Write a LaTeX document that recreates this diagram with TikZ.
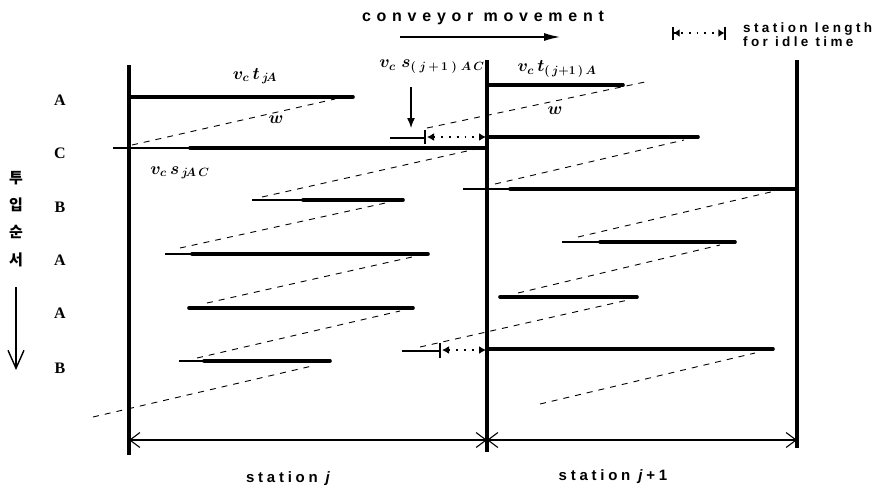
\documentclass[tikz,border=0pt]{standalone}
\usepackage{fontspec}
\setmainfont{Liberation Serif}
\setsansfont{Liberation Sans}
\newfontfamily\krfont{Noto Sans CJK KR}
\newfontfamily\widesans[LetterSpace=36]{Liberation Sans}
\newfontfamily\stationsans[LetterSpace=25]{Liberation Sans}
\usetikzlibrary{positioning, arrows.meta}

\begin{document}
\begin{tikzpicture}[x=1pt, y=-1pt,
    station/.style={line width=3.2pt},
    bar/.style={line width=3.6pt, line cap=round},
    lead/.style={line width=1.1pt},
    walk/.style={line width=0.9pt, dash pattern=on 6pt off 6pt},
    idle/.style={line width=2pt, dash pattern=on 1.8pt off 6pt,
                 {Latex[length=7pt,width=8pt]}-{Latex[length=7pt,width=8pt]}},
    idlekey/.style={line width=2pt, dash pattern=on 1.8pt off 6pt,
                 {Bar[width=13pt,line width=1.6pt]Latex[length=6pt,width=8pt]}-{Latex[length=6pt,width=8pt]Bar[width=13pt,line width=1.6pt]}},
    tickmark/.style={line width=1.4pt},
    dim/.style={line width=1.1pt,
                {Straight Barb[length=10pt,width=15pt]}-{Straight Barb[length=10pt,width=15pt]}},
    seq/.style={font=\bfseries\fontsize{16}{18}\selectfont},
    kr/.style={font=\krfont\bfseries\fontsize{15}{17}\selectfont},
    lbl/.style={font=\boldmath\fontsize{18}{20}\selectfont, inner sep=0pt},
    txt/.style={font=\stationsans\bfseries\fontsize{15}{16}\selectfont, inner sep=0pt},
  ]
  \useasboundingbox (0,0) rectangle (878,491);

  % Station borders
  \coordinate (sjtop) at (129,65);   \coordinate (sjbot) at (129,455);
  \coordinate (smtop) at (487,60);   \coordinate (smbot) at (487,452);
  \coordinate (sktop) at (797,60);   \coordinate (skbot) at (797,448);
  \draw[station] (sjtop) -- (sjbot);
  \draw[station] (smtop) -- (smbot);
  \draw[station] (sktop) -- (skbot);

  % Station length dimensions
  \coordinate (dimj)  at (129,440);
  \coordinate (dimm)  at (487,440);
  \coordinate (dimk)  at (797,440);
  \draw[dim] (dimj) -- (dimm);
  \draw[dim] (dimm) -- (dimk);
  \node[txt] (stj)  at (290,479) {station \textit{j}};
  \node[txt] (stj1) at (613,477) {station \textit{j}+1};

  % Conveyor movement
  \node[font=\widesans\bfseries\fontsize{16}{18}\selectfont, inner sep=0pt] (conv) at (483,18) {conveyor movement};
  \coordinate (convs) at (400,37);
  \coordinate (conve) at (560,37);
  \draw[line width=1.4pt, -{Latex[length=16pt,width=8pt]}] (convs) -- (conve);

  % Legend for idle time
  \coordinate (keys) at (672,33);
  \coordinate (keye) at (726,33);
  \draw[idlekey] (keys) -- (keye);
  \node[font=\stationsans\bfseries\fontsize{13.5}{14}\selectfont, align=left, anchor=west, inner sep=0pt]
       (keytxt) at (743,35) {station length\\for idle time};

  % Launch sequence
  \node[kr] (k1) at (16,178) {투};
  \node[kr] (k2) at (16,205) {입};
  \node[kr] (k3) at (16,232) {순};
  \node[kr] (k4) at (16,260) {서};
  \coordinate (seqs) at (16,287);
  \coordinate (seqe) at (16,370);
  \draw[line width=1.4pt, -{Straight Barb[length=18pt,width=16pt]}] (seqs) -- (seqe);

  \node[seq] (r1) at (60,100) {A};
  \node[seq] (r2) at (60,153) {C};
  \node[seq] (r3) at (60,207) {B};
  \node[seq] (r4) at (60,260) {A};
  \node[seq] (r5) at (60,313) {A};
  \node[seq] (r6) at (60,368) {B};

  % Work content, station j
  \draw[bar] (129,97) -- (353,97);
  \draw[lead] (113,148) -- (190,148);
  \draw[bar] (190,148) -- (487,148);
  \draw[lead] (252,200) -- (303,200);
  \draw[bar] (303,200) -- (403,200);
  \draw[lead] (165,254) -- (192,254);
  \draw[bar] (192,254) -- (428,254);
  \draw[bar] (189,308) -- (413,308);
  \draw[lead] (179,361) -- (204,361);
  \draw[bar] (204,361) -- (330,361);

  % Work content, station j+1
  \draw[bar] (487,85) -- (623,85);
  \draw[bar] (487,137) -- (698,137);
  \draw[lead] (463,189) -- (510,189);
  \draw[bar] (510,189) -- (797,189);
  \draw[lead] (562,242) -- (600,242);
  \draw[bar] (600,242) -- (735,242);
  \draw[bar] (500,297) -- (637,297);
  \draw[bar] (487,349) -- (773,349);

  % Idle time
  \draw[lead] (390,138) -- (425,138);
  \draw[tickmark] (425,130) -- (425,144);
  \draw[idle] (427,137) -- (486,137);
  \draw[lead] (402,351) -- (440,351);
  \draw[tickmark] (440,343) -- (440,358);
  \draw[idle] (442,350) -- (486,350);

  % Operator walk
  \draw[walk] (132,145) -- (335,99);
  \draw[walk] (262,197) -- (476,149);
  \draw[walk] (180,248) -- (390,202);
  \draw[walk] (207,303) -- (412,257);
  \draw[walk] (197,358) -- (400,311);
  \draw[walk] (93,417) -- (312,366);
  \draw[walk] (427,128) -- (645,82);
  \draw[walk] (495,184) -- (684,140);
  \draw[walk] (578,237) -- (775,191);
  \draw[walk] (518,293) -- (720,245);
  \draw[walk] (420,347) -- (628,300);
  \draw[walk] (540,404) -- (755,353);

  % Labels
  \node[lbl] (tja)  at (255,76) {$v_c\,t_{\,j\!A}$};
  \node[lbl] (wj)   at (276,120) {$w$};
  \node[lbl] (sjac) at (180,173) {$v_c\,s_{\,j\!A\,C}$};
  \node[lbl] (tj1a) at (557,69) {$v_c\,t_{(\,j+1\,)\,A}$};
  \node[lbl] (wj1)  at (555,111) {$w$};
  \node[lbl] (sj1)  at (432,67) {$v_c\;s_{(\;j\,+\,1\;)\;A\,C}$};
  \coordinate (sj1s) at (411,87);
  \coordinate (sj1e) at (411,128);
  \draw[line width=1.4pt, -{Latex[length=10pt,width=8pt]}] (sj1s) -- (sj1e);
\end{tikzpicture}
\end{document}
